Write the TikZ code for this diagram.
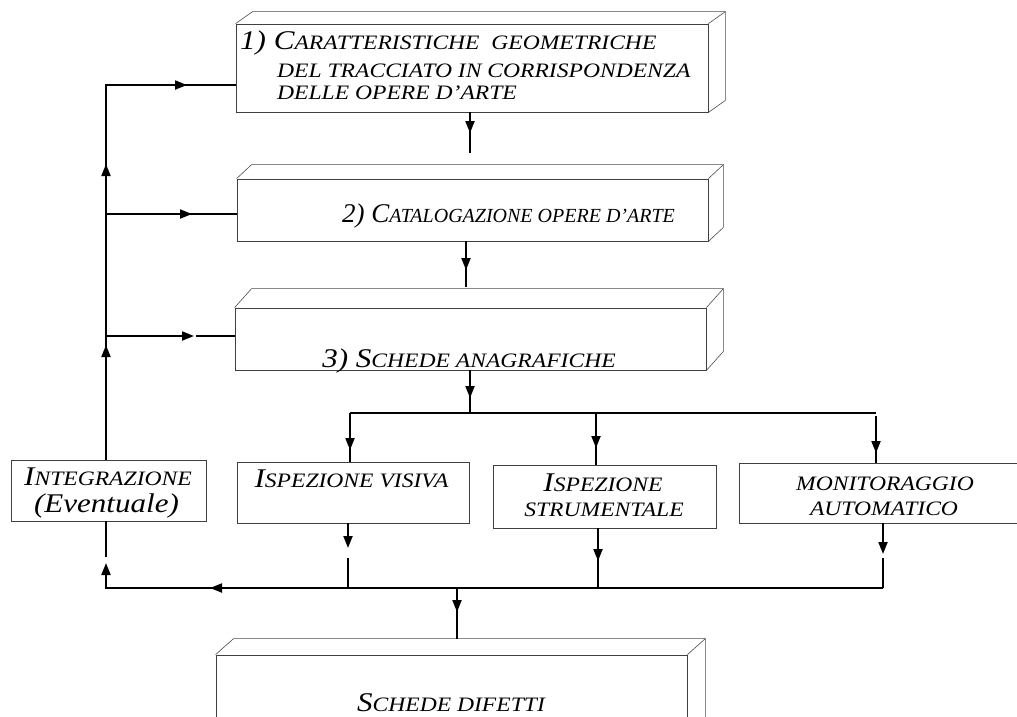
\documentclass[tikz,border=0pt]{standalone}
\usepackage{fontspec}
\setmainfont{Liberation Serif}[FakeStretch=1.15]
\newfontfamily\plainserif{Liberation Serif}
\usetikzlibrary{arrows.meta}
\newcommand\Lg[1]{{\fontsize{27}{30}\selectfont #1}}
\newcommand\cubeface[3]{%
  \draw[edge] (#1.north west) -- ++(#2pt,#3pt) -- ([shift={(#2pt,#3pt)}]#1.north east)
     -- ([shift={(#2pt,#3pt)}]#1.south east) -- (#1.south east);
  \draw[edge] (#1.north east) -- ++(#2pt,#3pt);}
\begin{document}
\begin{tikzpicture}[x=1pt,y=-1pt,
  box/.style={draw=black!75, line width=0.8pt, inner sep=0pt, fill=white},
  edge/.style={draw=black!70, line width=0.6pt},
  conn/.style={draw=black, line width=2pt},
  arr/.style={conn, -{Triangle[length=12pt,width=9pt]}},
  lbl/.style={font=\fontsize{20.5}{24}\selectfont\itshape, inner sep=0pt, text=black}]
\useasboundingbox (0,0) rectangle (1017,716);
\clip (0,0) rectangle (1017,716);
% boxes
\node[box, minimum width=472pt, minimum height=88pt] (b1) at (472,68) {};
\node[box, minimum width=471pt, minimum height=62pt] (b2) at (472.5,210) {};
\node[box, minimum width=471pt, minimum height=62pt] (b3) at (470.5,339) {};
\node[box, minimum width=195pt, minimum height=61pt] (bint) at (108.5,490.5) {};
\node[box, minimum width=232pt, minimum height=61pt] (bvis) at (353,492.5) {};
\node[box, minimum width=223pt, minimum height=63pt] (bstr) at (604.5,496.5) {};
\node[box, minimum width=281pt, minimum height=60pt] (bmon) at (879.5,493) {};
\node[box, minimum width=471pt, minimum height=85pt] (bdif) at (451.5,697.5) {};
\cubeface{b1}{17}{12}
\cubeface{b2}{15}{14}
\cubeface{b3}{17}{19}
\cubeface{bdif}{18}{16}
% texts
\node[lbl, anchor=base west] (t1a) at (240,49) {\Lg{1) C}ARATTERISTICHE\ \ GEOMETRICHE};
\node[lbl, anchor=base west] (t1b) at (277,77) {DEL TRACCIATO IN CORRISPONDENZA};
\node[lbl, anchor=base west] (t1c) at (277,99) {DELLE OPERE D’ARTE};
\node[lbl, anchor=base, font=\fontsize{20}{24}\selectfont\plainserif\itshape] (t2) at (508.5,222) {\Lg{2) C}ATALOGAZIONE OPERE D’ARTE};
\node[lbl, anchor=base] (t3) at (469,367) {\Lg{3) S}CHEDE ANAGRAFICHE};
\node[lbl, anchor=base] (tinta) at (108,485) {\Lg{I}NTEGRAZIONE};
\node[lbl, anchor=base] (tintb) at (106.5,512) {\Lg{(Eventuale)}};
\node[lbl, anchor=base] (tvis) at (351.5,487) {\Lg{I}SPEZIONE VISIVA};
\node[lbl, anchor=base] (tstra) at (603,491) {\Lg{I}SPEZIONE};
\node[lbl, anchor=base] (tstrb) at (604,516) {STRUMENTALE};
\node[lbl, anchor=base] (tmona) at (885,490) {MONITORAGGIO};
\node[lbl, anchor=base] (tmonb) at (884,515) {AUTOMATICO};
\node[lbl, anchor=base] (tdif) at (451,711) {\Lg{S}CHEDE DIFETTI};
% left feedback column
\coordinate (lv) at (106,0);
\coordinate (j1) at (106,85);
\coordinate (j2) at (106,214);
\coordinate (j3) at (106,336);
\draw[conn] (bint.north -| lv) -- (j1) -- (j1 -| b1.west);
\draw[arr] (bint.north -| lv) -- (106,345);
\draw[arr] (j2) -- (106,164);
\draw[arr] (j1) -- (187,85);
\draw[conn] (j2) -- (j2 -| b2.west);
\draw[arr] (j2) -- (192,214);
\draw[arr] (j3) -- (194,336);
\draw[conn] (196,336) -- (j3 -| b3.west);
% main chain
\coordinate (c12) at (470,153);
\draw[conn] (c12 |- b1.south) -- (c12);
\draw[arr] (c12 |- b1.south) -- (470,133);
\coordinate (c23) at (466,287);
\draw[conn] (c23 |- b2.south) -- (c23);
\draw[arr] (c23 |- b2.south) -- (466,270);
\coordinate (c3b) at (470,413);
\draw[conn] (c3b |- b3.south) -- (c3b);
\draw[arr] (c3b |- b3.south) -- (470,398);
% branch line
\coordinate (bl) at (350,413);
\coordinate (br) at (876,413);
\draw[conn] (bl) -- (br);
\draw[conn] (bl) -- (bl |- bvis.north);
\draw[arr] (bl) -- (350,450);
\coordinate (bm) at (596,413);
\draw[conn] (bm) -- (bm |- bstr.north);
\draw[arr] (bm) -- (596,448);
\draw[conn] (876,416) -- (876,0 |- bmon.north);
\draw[arr] (876,416) -- (876,453);
% collector
\coordinate (kv) at (348,588);
\coordinate (ks) at (598,588);
\coordinate (km) at (883,588);
\coordinate (kl) at (106,588);
\draw[arr] (kv |- bvis.south) -- (348,548);
\draw[conn] (348,558) -- (kv);
\draw[conn] (ks |- bstr.south) -- (ks);
\draw[arr] (ks |- bstr.south) -- (598,561);
\draw[arr] (km |- bmon.south) -- (883,554);
\draw[conn] (883,558) -- (km);
\draw[conn] (km) -- (kl) -- (106,570);
\draw[arr] (km) -- (210,588);
\draw[arr] (kl) -- (106,563);
\draw[conn] (106,557) -- (bint.south -| lv);
% to defects
\coordinate (kd) at (457,588);
\draw[conn] (kd) -- ([yshift=16pt]kd |- bdif.north);
\draw[arr] (kd) -- (457,612);
\end{tikzpicture}
\end{document}
